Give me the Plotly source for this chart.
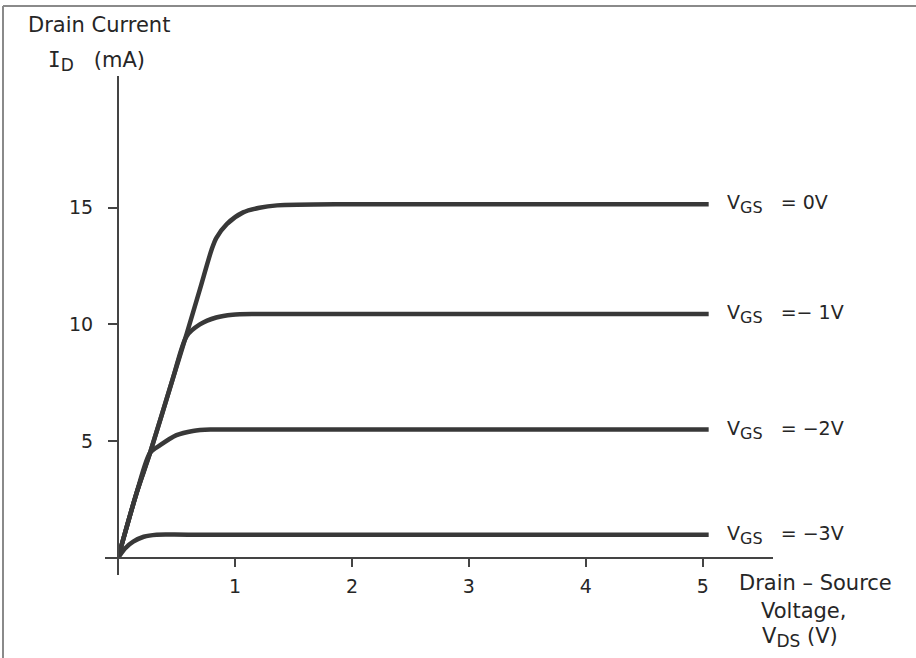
import plotly.graph_objects as go

# Drain characteristics of an n-channel JFET: drain current I_D (mA) vs drain-source voltage V_DS (V)
vds_0v = [0, 0.16, 0.274, 0.47, 0.587, 0.70, 0.80, 0.84, 0.93, 1.07, 1.21, 1.36, 2.0, 5.05]
id_0v = [0, 2.8, 4.5, 7.7, 9.6, 11.5, 13.2, 13.7, 14.3, 14.8, 15.0, 15.1, 15.15, 15.15]

vds_m1v = [0, 0.16, 0.274, 0.47, 0.587, 0.70, 0.84, 0.98, 1.2, 5.05]
id_m1v = [0, 2.8, 4.5, 7.7, 9.5, 10.0, 10.3, 10.42, 10.45, 10.45]

vds_m2v = [0, 0.16, 0.274, 0.36, 0.50, 0.64, 0.79, 1.2, 5.05]
id_m2v = [0, 2.8, 4.5, 4.83, 5.26, 5.44, 5.5, 5.5, 5.5]

vds_m3v = [0, 0.06, 0.13, 0.22, 0.33, 0.6, 5.05]
id_m3v = [0, 0.41, 0.70, 0.91, 1.0, 1.0, 1.0]

SUB = "<sub><span style='font-size:16px'>{}</span></sub>"
curve_labels = ["V" + SUB.format("GS") + "   = 0V",
                "V" + SUB.format("GS") + "   =− 1V",
                "V" + SUB.format("GS") + "   = −2V",
                "V" + SUB.format("GS") + "   = −3V"]

x_ticks = [1, 2, 3, 4, 5]
y_ticks = [5, 10, 15]

W, H = 916, 658
L, R, T, B = 118, 143, 76, 100
INK = "#262626"
FONT = "DejaVu Sans"


def px_x(p):
    return (p - L) / (W - L - R)


def px_y(p):
    return (H - B - p) / (H - T - B)


fig = go.Figure()
series = [(vds_0v, id_0v), (vds_m1v, id_m1v), (vds_m2v, id_m2v), (vds_m3v, id_m3v)]
for (vx, iy), lab in zip(series, curve_labels):
    fig.add_trace(go.Scatter(
        x=vx, y=iy, mode="lines",
        line=dict(color="#383838", width=4.5, shape="spline", smoothing=0.8),
        showlegend=False, hoverinfo="skip", cliponaxis=False,
    ))
    fig.add_annotation(
        x=5.19, y=iy[-1], xref="x", yref="y", text=lab, showarrow=False,
        xanchor="left", yanchor="middle",
        font=dict(family=FONT, size=19, color=INK),
    )

axis_common = dict(
    showgrid=False, zeroline=False, showline=False,
    ticks="outside", tickcolor="#444444", tickwidth=2,
    tickfont=dict(family=FONT, size=19, color=INK),
)
fig.update_xaxes(range=[0, 5.6], tickvals=x_ticks, ticklen=8,
                 ticklabelstandoff=3, **axis_common)
fig.update_yaxes(range=[0, 20.64], tickvals=y_ticks, ticklen=9,
                 ticklabelstandoff=11, **axis_common)

# axis lines crossing at the origin
fig.add_shape(type="line", xref="paper", yref="paper",
              x0=px_x(105), x1=1, y0=0, y1=0,
              line=dict(color="#444444", width=2))
fig.add_shape(type="line", xref="paper", yref="paper",
              x0=0, x1=0, y0=px_y(575), y1=1,
              line=dict(color="#444444", width=2))

# frame edges along the top and left
fig.add_shape(type="line", xref="paper", yref="paper",
              x0=px_x(3), x1=px_x(916), y0=px_y(6), y1=px_y(6),
              line=dict(color="#8a8a8a", width=2))
fig.add_shape(type="line", xref="paper", yref="paper",
              x0=px_x(3), x1=px_x(3), y0=px_y(6), y1=px_y(658),
              line=dict(color="#8a8a8a", width=2))

# axis titles
fig.add_annotation(x=px_x(26), y=px_y(25), xref="paper", yref="paper",
                   text="Drain Current", showarrow=False,
                   xanchor="left", yanchor="middle",
                   font=dict(family=FONT, size=21, color=INK))
fig.add_annotation(x=px_x(46), y=px_y(61), xref="paper", yref="paper",
                   text="<span style='font-family:DejaVu Sans Mono'>I</span>"
                        "<sub><span style='font-size:17px'>D</span></sub>   (mA)",
                   showarrow=False, xanchor="left", yanchor="middle",
                   font=dict(family=FONT, size=21, color=INK))

fig.add_annotation(x=px_x(815), y=px_y(583), xref="paper", yref="paper",
                   text="Drain – Source", showarrow=False,
                   xanchor="center", yanchor="middle",
                   font=dict(family=FONT, size=21, color=INK))
fig.add_annotation(x=px_x(803), y=px_y(611), xref="paper", yref="paper",
                   text="Voltage,", showarrow=False,
                   xanchor="center", yanchor="middle",
                   font=dict(family=FONT, size=21, color=INK))
fig.add_annotation(x=px_x(800), y=px_y(637), xref="paper", yref="paper",
                   text="V<sub><span style='font-size:17px'>DS</span></sub> (V)",
                   showarrow=False,
                   xanchor="center", yanchor="middle",
                   font=dict(family=FONT, size=21, color=INK))

fig.update_layout(
    width=W, height=H,
    margin=dict(l=L, r=R, t=T, b=B),
    paper_bgcolor="white", plot_bgcolor="white",
    showlegend=False,
)

fig.write_html("out.html")
